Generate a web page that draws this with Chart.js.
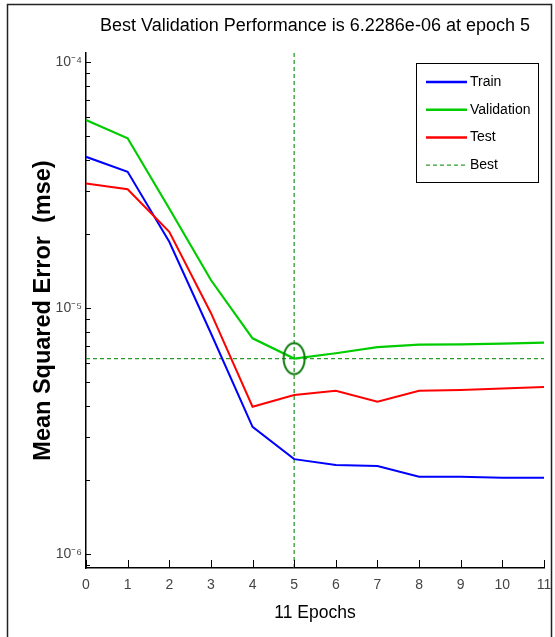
<!DOCTYPE html>
<html><head><meta charset="utf-8">
<script src="https://cdn.jsdelivr.net/npm/chart.js@4"></script>
<style>html,body{margin:0;padding:0;background:#fff}#wrap{width:555px;height:637px;position:relative}</style>
</head><body><div id="wrap"><canvas id="c" width="555" height="637"></canvas></div>
<script>
const epochs = [0,1,2,3,4,5,6,7,8,9,10,11];
const trainMSE = [4.12e-5,3.58e-5,1.86e-5,7.9e-6,3.29e-6,2.43e-6,2.30e-6,2.28e-6,2.06e-6,2.06e-6,2.04e-6,2.04e-6];
const validationMSE = [5.81e-5,4.90e-5,2.54e-5,1.30e-5,7.53e-6,6.2286e-6,6.55e-6,6.94e-6,7.10e-6,7.12e-6,7.17e-6,7.23e-6];
const testMSE = [3.21e-5,3.04e-5,2.04e-5,9.55e-6,3.97e-6,4.43e-6,4.61e-6,4.16e-6,4.61e-6,4.64e-6,4.71e-6,4.77e-6];
const bestEpoch = 5;
const bestValue = 6.2286e-6;
const xTickLabels = ['0','1','2','3','4','5','6','7','8','9','10','11'];
const yMajorValues = [1e-6,1e-5,1e-4];
const yTickLabels = ['10\u207B\u2076','10\u207B\u2075','10\u207B\u2074'];
const seriesNames = ['Train','Validation','Test','Best'];

const Y_MIN = Math.pow(10,-6.057), Y_MAX = Math.pow(10,-3.963);
const SANS = '"Liberation Sans",Arial,sans-serif';

const pts = arr => epochs.map((e,i)=>({x:e,y:arr[i]}));

// ellipse marker for best point
const ell = document.createElement('canvas'); ell.width=26; ell.height=36;
{const c=ell.getContext('2d'); c.strokeStyle='#0a7a0a'; c.lineWidth=2; c.beginPath(); c.ellipse(13,18,10.5,15.5,0,0,2*Math.PI); c.stroke();}

const frame = {
  id:'frame',
  afterLayout(chart){
    if(chart.titleBlock){chart.titleBlock.left=chart.chartArea.left; chart.titleBlock.right=chart.chartArea.right;}
  },
  beforeDraw(chart){
    const ctx=chart.ctx; ctx.save(); ctx.strokeStyle='#222'; ctx.lineWidth=1.5;
    ctx.beginPath(); ctx.moveTo(7.5,637); ctx.lineTo(7.5,4.5); ctx.lineTo(551.5,4.5); ctx.lineTo(551.5,637); ctx.stroke(); ctx.restore();
  }
};
const ticksIn = {
  id:'ticksIn',
  afterDraw(chart){
    const {ctx, scales:{x,y}, chartArea:a} = chart;
    ctx.save(); ctx.strokeStyle='#000'; ctx.lineWidth=1;
    ctx.beginPath();
    x.ticks.forEach(t=>{const px=Math.round(x.getPixelForValue(t.value))+0.5; ctx.moveTo(px,a.bottom); ctx.lineTo(px,a.bottom-8);});
    for(let e=-7;e<=-3;e++){for(let m=1;m<=9;m++){const v=m*Math.pow(10,e); if(v<y.min||v>y.max) continue; const py=Math.round(y.getPixelForValue(v))+0.5; ctx.moveTo(a.left,py); ctx.lineTo(a.left+(m===1?5:4),py);}}
    ctx.stroke(); ctx.restore();
  }
};
const boxLegend = {
  id:'boxLegend',
  afterDraw(chart){
    const ctx=chart.ctx; const a=chart.chartArea;
    const items = seriesNames.map(n=>chart.data.datasets.find(d=>d.inLegend&&d.label===n));
    const L=a.right-128, T=a.top+10, W=122, H=119;
    ctx.save();
    ctx.fillStyle='#fff'; ctx.fillRect(L,T,W,H);
    ctx.strokeStyle='#000'; ctx.lineWidth=1; ctx.strokeRect(Math.round(L)+0.5,Math.round(T)+0.5,W,H);
    ctx.font='14px '+SANS; ctx.textBaseline='middle'; ctx.textAlign='left';
    items.forEach((d,i)=>{
      const yy=T+19+i*27.7;
      ctx.strokeStyle=d.borderColor; ctx.lineWidth=d.inLegend==='dash'?1.3:2.5; ctx.setLineDash(d.inLegend==='dash'?[4,3]:[]);
      ctx.beginPath(); ctx.moveTo(L+10,yy); ctx.lineTo(L+51,yy); ctx.stroke();
      ctx.setLineDash([]); ctx.fillStyle='#000'; ctx.fillText(d.label,L+54,yy);
    });
    ctx.restore();
  }
};

new Chart(document.getElementById('c'),{
  type:'line',
  data:{datasets:[
    {label:seriesNames[3],inLegend:'dash',data:[{x:bestEpoch,y:Y_MIN},{x:bestEpoch,y:Y_MAX}],borderColor:'#2f9a2f',borderWidth:1.3,borderDash:[4,3],pointRadius:0,order:5},
    {label:'Best (horizontal)',data:[{x:0,y:bestValue},{x:11,y:bestValue}],borderColor:'#2f9a2f',borderWidth:1.3,borderDash:[4,3],pointRadius:0,order:5},
    {label:seriesNames[0],inLegend:'solid',data:pts(trainMSE),borderColor:'#0000ff',borderWidth:2,pointRadius:0,order:3},
    {label:seriesNames[1],inLegend:'solid',data:pts(validationMSE),borderColor:'#00cc00',borderWidth:2.2,pointRadius:0,order:2},
    {label:seriesNames[2],inLegend:'solid',data:pts(testMSE),borderColor:'#ff0000',borderWidth:2,pointRadius:0,order:1},
    {label:'Best point',data:[{x:bestEpoch,y:bestValue}],showLine:false,pointStyle:ell,pointRadius:10,borderColor:'#0a7a0a',order:0}
  ]},
  options:{
    responsive:false, animation:false, devicePixelRatio:1,
    layout:{padding:{top:0,left:0,right:1,bottom:0}},
    plugins:{
      legend:{display:false}, tooltip:{enabled:false},
      title:{display:true,text:'Best Validation Performance is 6.2286e-06 at epoch 5',color:'#000',font:{family:SANS,size:18,weight:'normal',lineHeight:1.2},padding:{top:15.2,bottom:16.2}}
    },
    scales:{
      x:{type:'linear',min:0,max:11,
        grid:{display:false,drawTicks:false,tickLength:0},
        border:{display:true,color:'#000',width:1.5},
        ticks:{stepSize:1,autoSkip:false,maxRotation:0,padding:0,color:'#444',font:{family:SANS,size:14,lineHeight:2.5},callback:(v)=>xTickLabels[v]},
        title:{display:true,text:'11 Epochs',color:'#000',font:{family:SANS,size:17.5},padding:{top:0,bottom:13}},
        afterFit:s=>{s.height=69;}
      },
      y:{type:'logarithmic',min:Y_MIN,max:Y_MAX,
        grid:{display:false,drawTicks:false,tickLength:0},
        border:{display:true,color:'#000',width:1.5},
        afterBuildTicks:s=>{s.ticks=yMajorValues.map(v=>({value:v,major:true}));},
        ticks:{padding:4,color:'#444',font:{family:SANS,size:14},callback:(v)=>{const i=yMajorValues.findIndex(m=>Math.abs(m-v)/m<1e-6);return i>=0?yTickLabels[i]:'';}},
        title:{display:true,text:'Mean Squared Error  (mse)',color:'#000',font:{family:SANS,size:23.5,weight:'bold'},padding:{top:29,bottom:0}},
        afterFit:s=>{s.width=86;}
      }
    }
  },
  plugins:[frame,ticksIn,boxLegend]
});
</script></body></html>
